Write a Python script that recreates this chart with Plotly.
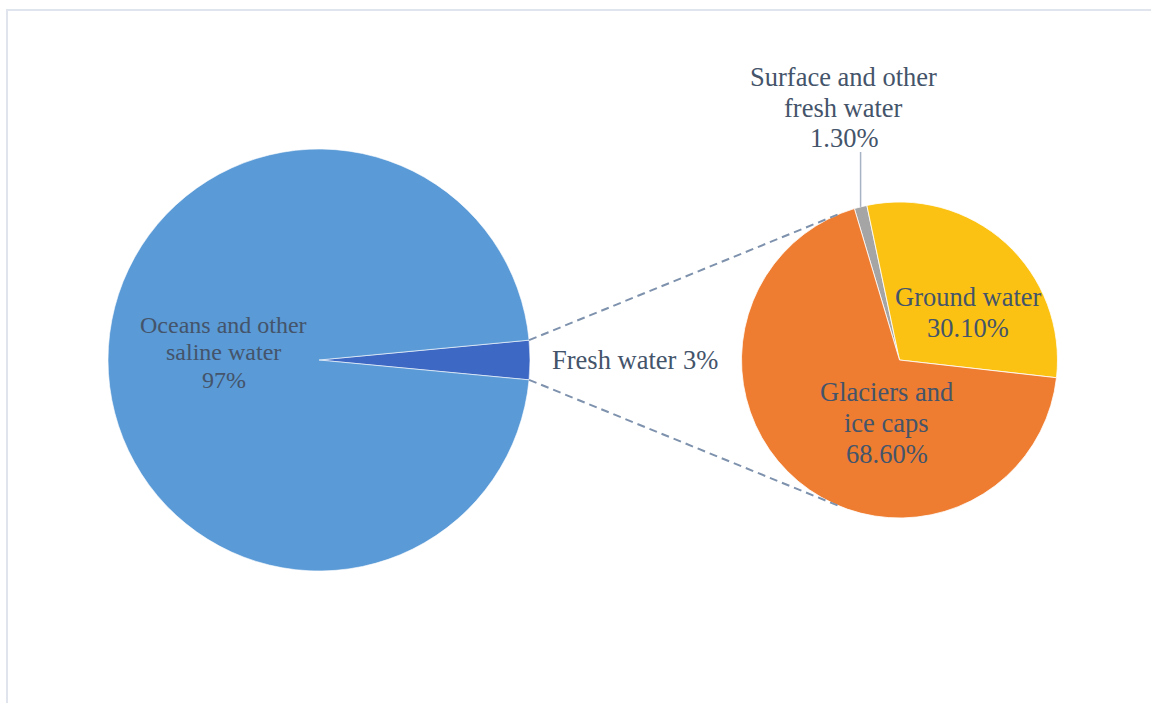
import math
import plotly.graph_objects as go

# ---- data -------------------------------------------------------------
earth_labels = ["Fresh water", "Oceans and other\nsaline water"]
earth_values = [3, 97]

fresh_labels = ["Surface and other\nfresh water", "Ground water", "Glaciers and\nice caps"]
fresh_values = [1.3, 30.1, 68.6]

# ---- styling / layout constants ---------------------------------------
W, H = 1151, 703
TEXT = "#44546a"
FONT = "Liberation Serif, Times New Roman, serif"

earth_colors = ["#3d68c4", "#5a9ad6"]
fresh_colors = ["#a5a5a5", "#fbc214", "#ee7d31"]

L_CX, L_CY, L_R = 319, 360, 211      # main pie (pixels)
R_CX, R_CY, R_R = 899.5, 360, 158    # breakout pie (pixels)
R_ROT = -16.6                        # start angle of breakout pie


def px(x):
    return x / W


def py(y):
    return 1 - y / H


def dom(cx, cy, r):
    return dict(x=[px(cx - r), px(cx + r)], y=[py(cy + r), py(cy - r)])


# fresh-water slice sits centred on 3 o'clock
fresh_share = earth_values[0] / sum(earth_values)
L_ROT = 90 - fresh_share * 360 / 2

fig = go.Figure()
fig.add_trace(go.Pie(
    labels=[s.replace("\n", " ") for s in earth_labels], values=earth_values,
    sort=False, direction="clockwise", rotation=L_ROT,
    marker=dict(colors=earth_colors, line=dict(color="white", width=0.6)),
    textinfo="none", hoverinfo="label+percent", showlegend=False,
    domain=dom(L_CX, L_CY, L_R),
))
fig.add_trace(go.Pie(
    labels=[s.replace("\n", " ") for s in fresh_labels], values=fresh_values,
    sort=False, direction="clockwise", rotation=R_ROT,
    marker=dict(colors=fresh_colors, line=dict(color="white", width=0.8)),
    textinfo="none", hoverinfo="label+percent", showlegend=False,
    domain=dom(R_CX, R_CY, R_R),
))


def on_circle(cx, cy, r, deg):
    a = math.radians(deg)
    return cx + r * math.sin(a), cy - r * math.cos(a)


# connector lines: from the edges of the fresh-water slice, tangent to the breakout pie
edge_a = L_ROT
edge_b = L_ROT + fresh_share * 360
shapes = []
for deg in (edge_a, edge_b):
    x0, y0 = on_circle(L_CX, L_CY, L_R, deg)
    dx, dy = R_CX - x0, R_CY - y0
    d = math.hypot(dx, dy)
    phi = math.atan2(dy, dx)
    alpha = math.asin(R_R / d)
    length = math.sqrt(d * d - R_R * R_R)
    cands = [(x0 + length * math.cos(phi + s * alpha), y0 + length * math.sin(phi + s * alpha))
             for s in (-1, 1)]
    # upper edge -> upper tangent, lower edge -> lower tangent
    x1, y1 = min(cands, key=lambda p: p[1]) if y0 < L_CY else max(cands, key=lambda p: p[1])
    shapes.append(dict(type="line", xref="paper", yref="paper",
                       x0=px(x0), y0=py(y0), x1=px(x1), y1=py(y1),
                       line=dict(color="#7e92ad", width=2, dash="8px,5px")))

# leader line for the smallest slice
surf_mid = R_ROT + fresh_values[0] / sum(fresh_values) * 360 / 2
lx, ly = on_circle(R_CX, R_CY, R_R, surf_mid)
shapes.append(dict(type="line", xref="paper", yref="paper",
                   x0=px(lx), y0=py(ly), x1=px(lx), y1=py(152),
                   line=dict(color="#a7b3c5", width=1.5)))

# chart frame
shapes.append(dict(type="rect", xref="paper", yref="paper",
                   x0=px(7), y0=py(H + 20), x1=px(W + 20), y1=py(10),
                   line=dict(color="#e0e4ec", width=2), fillcolor="rgba(0,0,0,0)"))

# ---- data labels ------------------------------------------------------
annotations = []


def label(lines, cx, first_mid, step, size):
    for i, t in enumerate(lines):
        annotations.append(dict(
            xref="paper", yref="paper", x=px(cx), y=py(first_mid + i * step),
            xanchor="center", yanchor="middle", showarrow=False, text=t,
            font=dict(family=FONT, size=size, color=TEXT)))


def pct(v, fmt):
    return fmt.format(v) + "%"


label(earth_labels[1].split("\n") + [pct(earth_values[1], "{:.0f}")], 223.5, 325, 27.5, 24)
label([earth_labels[0] + " " + pct(earth_values[0], "{:.0f}")], 634.5, 360, 0, 26.5)
label(fresh_labels[0].split("\n") + [pct(fresh_values[0], "{:.2f}")], 843.5, 77, 30.5, 26.5)
label(fresh_labels[1].split("\n") + [pct(fresh_values[1], "{:.2f}")], 968, 297, 31, 26.5)
label(fresh_labels[2].split("\n") + [pct(fresh_values[2], "{:.2f}")], 886.5, 392, 31, 26.5)

fig.update_layout(
    width=W, height=H, margin=dict(l=0, r=0, t=0, b=0),
    paper_bgcolor="white", plot_bgcolor="white",
    shapes=shapes, annotations=annotations,
)

fig.write_html("out.html")
